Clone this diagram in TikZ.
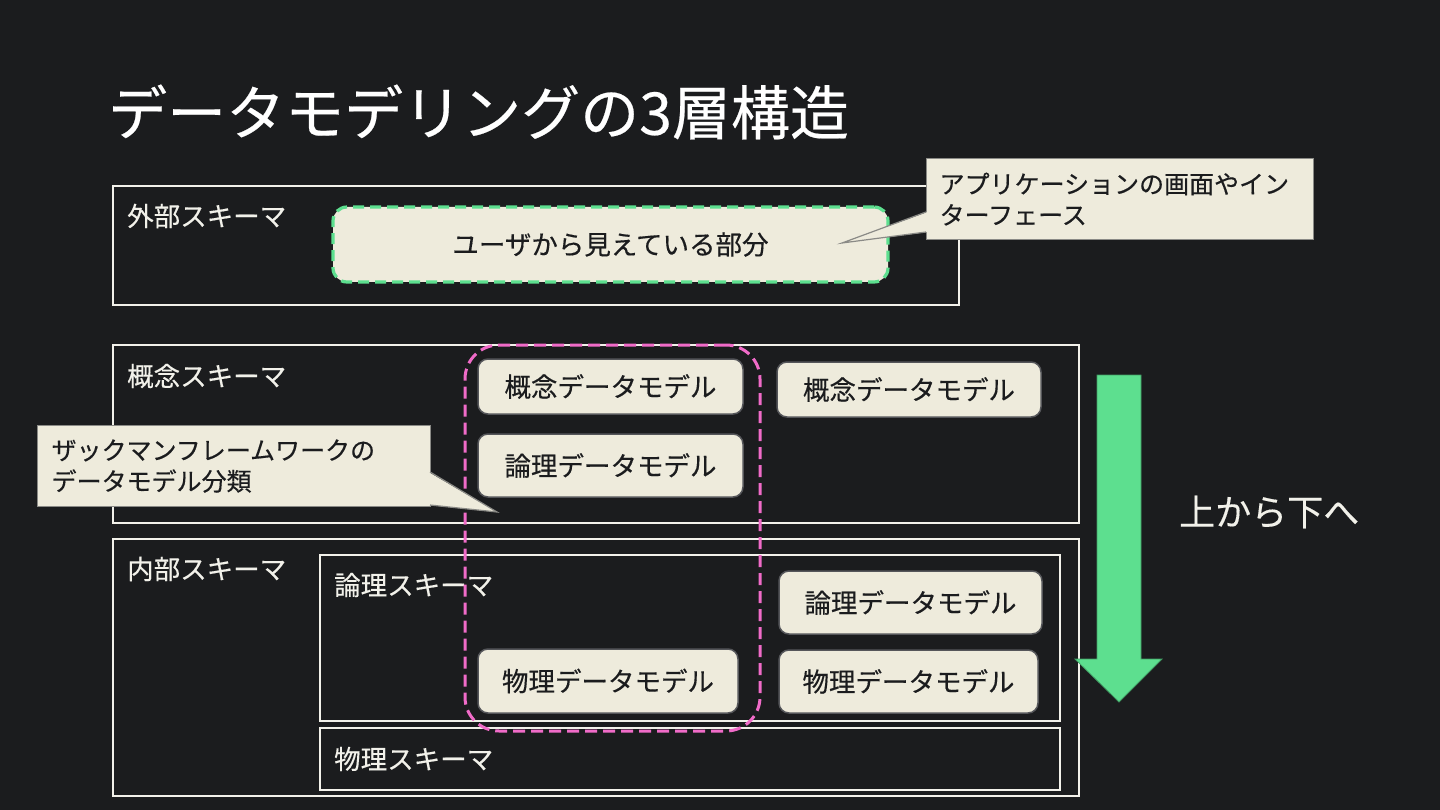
\documentclass[tikz,border=0pt]{standalone}
\usepackage{fontspec}
\setmainfont[FakeBold=0.35]{Noto Sans CJK JP}
\usetikzlibrary{positioning}
\definecolor{bg}{HTML}{1B1C1E}
\definecolor{cream}{HTML}{EEEBDC}
\definecolor{lightfg}{HTML}{F2F1EA}
\definecolor{mgreen}{HTML}{5DDF8F}
\definecolor{mpink}{HTML}{F06BC8}
\definecolor{boxedge}{HTML}{55565A}
\definecolor{calloutedge}{HTML}{8A8A86}
\tikzset{
  frame/.style={draw=lightfg, line width=1.5pt},
  lbl/.style={anchor=west, text=lightfg, inner sep=0pt, font=\fontsize{26.5}{30}\selectfont},
  mbox/.style={draw=boxedge, line width=1.5pt, fill=cream, rounded corners=10pt, inner sep=0pt, text=bg, font=\fontsize{26.5}{30}\selectfont},
  callbox/.style={draw=calloutedge, line width=1.2pt, fill=cream, inner sep=0pt, text=bg, align=left, font=\fontsize{25}{31}\selectfont},
}
\begin{document}
\begin{tikzpicture}[x=1pt, y=-1pt]
\useasboundingbox[fill=bg] (0,0) rectangle (1440,810);

% title
\node[anchor=west, text=white, inner sep=0pt, font=\fontsize{59}{62}\selectfont] (title) at (108,112) {データモデリングの3層構造};

% outer frames
\node[frame, minimum width=846, minimum height=119, inner sep=0pt] (ext) at (536,245.5) {};
\node[frame, minimum width=966, minimum height=178, inner sep=0pt] (con) at (596,434) {};
\node[frame, minimum width=966, minimum height=257, inner sep=0pt] (int) at (596,667.5) {};
\node[frame, minimum width=740, minimum height=166, inner sep=0pt] (logs) at (690,638) {};
\node[frame, minimum width=740, minimum height=62, inner sep=0pt] (phys) at (690,759) {};

% frame labels
\node[lbl] (extl) at (127,216) {外部スキーマ};
\node[lbl] (conl) at (127,376) {概念スキーマ};
\node[lbl] (intl) at (127,569) {内部スキーマ};
\node[lbl] (logl) at (334,585) {論理スキーマ};
\node[lbl] (phyl) at (334,759) {物理スキーマ};

% external view box
\node[draw=mgreen, dash pattern=on 11pt off 6pt, line width=3.2pt, fill=cream, rounded corners=14pt,
      minimum width=555, minimum height=75, inner sep=0pt, text=bg, font=\fontsize{26.5}{30}\selectfont] (user) at (610.5,244.5) {ユーザから見えている部分};

% pink dashed grouping
\node[draw=mpink, dash pattern=on 12pt off 6pt, line width=3pt, rounded corners=34pt,
      minimum width=295, minimum height=386, inner sep=0pt] (zach) at (612.5,538) {};

% model boxes
\node[mbox, minimum width=265, minimum height=55] (c1) at (610.5,386.5) {概念データモデル};
\node[mbox, minimum width=264, minimum height=55] (c2) at (909,389.5) {概念データモデル};
\node[mbox, minimum width=265, minimum height=63] (l1) at (610.5,465.5) {論理データモデル};
\node[mbox, minimum width=263, minimum height=63] (l2) at (910.5,602.5) {論理データモデル};
\node[mbox, minimum width=260, minimum height=64] (p1) at (608,681) {物理データモデル};
\node[mbox, minimum width=259, minimum height=63] (p2) at (908.5,681.5) {物理データモデル};

% callout 1
\node[callbox, minimum width=387, minimum height=81, text width=361, inner xsep=13pt, anchor=north west] (call1) at (926,158) {アプリケーションの画面やイン\\ターフェース};
\coordinate (t1) at (842,243);
\fill[cream] (927.5,212) -- (t1) -- (927.5,232) -- cycle;
\draw[calloutedge, line width=1.2pt] (926,212) -- (t1) -- (926,232);

% callout 2
\node[callbox, minimum width=393, minimum height=81, text width=365, inner xsep=14pt, anchor=north west] (call2) at (37,425) {ザックマンフレームワークの\\データモデル分類};
\coordinate (t2) at (497,512);
\fill[cream] (428.5,472) -- (t2) -- (428.5,505) -- cycle;
\draw[calloutedge, line width=1.2pt] (430,472) -- (t2) -- (430,505);

% big arrow
\coordinate (atop) at (1119,375);
\coordinate (atip) at (1119,702);
\draw[fill=mgreen, draw=mgreen!70!black, line width=0.8pt]
  (1097,375) -- (1141,375) -- (1141,659) -- (1162,659) -- (atip) -- (1075,659) -- (1097,659) -- cycle;
\node[anchor=west, text=lightfg, inner sep=0pt, font=\fontsize{36}{40}\selectfont] (dir) at (1179,512) {上から下へ};
\end{tikzpicture}
\end{document}
